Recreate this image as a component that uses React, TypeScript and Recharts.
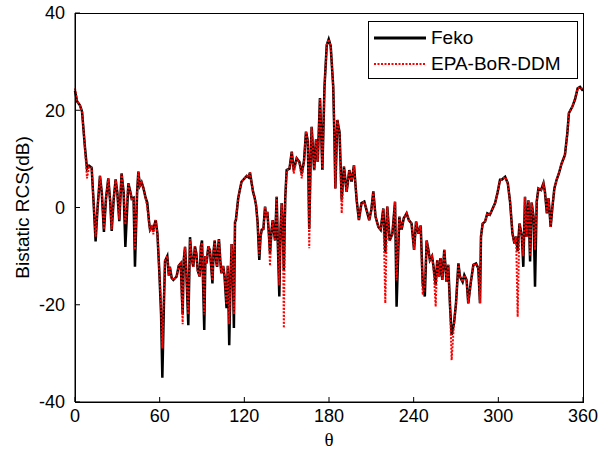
import React from 'react';
import { LineChart, Line, XAxis, YAxis } from 'recharts';

// bistatic angle (deg)
const theta = [
  0, 1.5, 3.5, 5, 7, 8.5, 10, 11.8, 13, 14.6, 16, 17.7, 19, 20.5, 22, 23.6, 25, 26, 27.5, 28.8,
  30, 31.4, 33, 34.5, 35.7, 37.8, 39, 40.2, 41.5, 42.5, 44, 44.9, 46, 47.2, 48.5, 50, 51.2, 52.5, 53.2, 54.5,
  55.5, 57.2, 58.4, 59.8, 61, 61.9, 63, 63.8, 65.4, 66.5, 67.2, 68.5, 69.7, 71, 72, 73.5, 74.9, 76.3, 77, 78,
  79, 80.3, 81.5, 82.5, 83.8, 85, 86, 87, 88.4, 89.2, 90, 91.6, 92.4, 93.2, 94.5, 95.6, 96.5, 97.4, 98.2, 99,
  100, 100.7, 101.5, 102, 103, 103.7, 105, 106, 107.4, 108.3, 109.3, 110.2, 111, 111.8, 112.6, 113.4, 114, 115.7, 118, 121.7,
  123, 124, 125.2, 126.2, 127.3, 128.3, 129.4, 130.6, 131.5, 132.3, 133.5, 134.7, 135.5, 136.3, 137.3, 138.2, 139.2, 140.1, 141, 141.8,
  142.9, 143.8, 144.8, 145.6, 146.5, 147.3, 148, 149, 150, 152, 153.6, 155, 157.1, 159, 160.7, 162.3, 163.7, 165, 166, 167,
  167.7, 169.5, 170.8, 172, 173.6, 174.5, 175.3, 176.8, 178.4, 179.8, 181.2, 183, 183.8, 184.5, 185.9, 187.5, 189, 190.6, 192.5, 194.4,
  196, 197.7, 199.6, 201.2, 203, 205, 206.6, 208.5, 210, 211.4, 213, 215, 216.6, 218.5, 219.9, 221.3, 223, 224.9, 226.8, 227.9,
  229.8, 231.4, 233, 235, 236.6, 238.5, 240.3, 241.7, 243.4, 245, 246.4, 247.9, 249.2, 250.4, 251.5, 253, 254, 255.6, 256.7, 258,
  259, 260.3, 261.7, 263.3, 264.5, 265.8, 266.9, 268.6, 270, 271.7, 272.8, 274.7, 275.9, 277.5, 278.7, 280.4, 282.3, 284.2, 285.8, 287,
  287.7, 288.9, 290.6, 292.2, 294, 296, 297.7, 299.4, 301.2, 302.4, 304.8, 306.7, 308.3, 310, 311.4, 312.6, 313.7, 315, 316.7, 317.7,
  318.9, 320, 321.3, 322.5, 323.6, 325, 326, 327.2, 328.4, 330.3, 332, 333, 334.4, 335.6, 337.1, 338.3, 339.7, 341.3, 342.9, 344.8,
  347.2, 348.9, 350, 352.4, 354.3, 356.2, 357.9, 360,
];

// Feko reference (dB)
const feko = [
  24.0, 21.8, 21.0, 19.7, 12.5, 8.0, 8.6, 8.2, 2.0, -7.0, 0, 6.5, 3, -5.0, 2, 6.0, 1, -4.8, 2, 5.8,
  3, -2.8, 7.0, 3, -8.1, 5.0, 3.5, 1.8, 2, -12.2, 3, 7.4, 4.5, 5.2, 4, 2, 1.0, -3, -4.6, -4.0,
  -4.5, -2.6, -5.3, -13.5, -22, -35, -20, -11.0, -10, -14, -12.2, -14.5, -14.9, -14.5, -14.2, -12, -11.5, -22, -11, -8.1,
  -14, -24.2, -6.1, -10, -12.2, -8, -9.5, -13, -14.2, -8, -6.8, -25.2, -10, -11.5, -8, -8.8, -12, -15.6, -9, -6.8,
  -11, -12.2, -8, -6.5, -11, -13.5, -12, -14.2, -20.7, -12, -28.3, -15, -7.5, -12, -24.8, -3, -2.6, 2.0, 5.3, 6.5,
  6.2, 7.2, 5, 3.2, 2, 0.5, -3, -10.8, -6, -4.6, -4.4, 0.2, -2, -0.9, -5, -9.4, -5, -2.6, -5, -6.8,
  2.2, -8, -18.3, -5, 0.9, -5, -12.9, 2, 7.7, 8.0, 11.5, 7.7, 10.1, 9.4, 7.0, 9.6, 15.6, 13.7, -4.4, 10,
  16.6, 7.7, 14.0, 9.4, 22.5, 15, 7.7, 24.8, 33.4, 34.6, 33.2, 24.8, 15, 3.9, 18.0, 15.4, 1.6, 8.4, 3.2, 7.7,
  5.3, 8.7, 1.5, -2.6, 0.9, 1.2, -0.5, -2.6, -0.5, 3.3, -1.9, -4.0, -4.6, -0.2, -9.4, 0.2, -6.8, -5.4, 1.2, -20.4,
  -1.9, -4.6, -2.2, -1.2, -2.6, -3.3, -8.7, -2.9, -5.4, -3.7, -15.6, -18.3, -6.8, -8.7, -10.8, -10, -12, -16, -10.8, -14.2,
  -10.4, -14.9, -8.7, -15.3, -11.8, -20.4, -26.2, -23.8, -19.7, -11.5, -14.2, -15.3, -13.9, -14.9, -19.7, -15.6, -11.8, -11.5, -12.5, -19.7,
  -6.0, -3.3, -2.9, -1.2, -1.5, -0.2, 0.9, 3.0, 5.7, 5.7, 6.3, 5.0, 1.2, -5.3, -7.4, -6, -9, -3.3, -6, -12.2,
  2.2, -6, 1.5, -11.1, 1, -2, -16.3, 1.2, 3.9, 3.6, 5.0, 3.3, -1.2, 1.9, -4.0, 0, 3.9, 5.7, 7.0, 9.0,
  10.8, 15.3, 19.4, 20.7, 22.2, 24.5, 24.8, 24.0,
];

// EPA-BoR-DDM (dB)
const epa = [
  24.5, 21.8, 21.0, 19.7, 12.5, 6.0, 8.4, 8.2, 2.0, -6.0, 0, 6.5, 3, -4.5, 2, 6.0, 1, -4.5, 2, 5.8,
  3, -2.5, 7.0, 3, -3.5, 5.0, 3.5, 1.8, 2, -8.7, 3, 7.4, 4.5, 5.2, 4, 2, 0.0, -3, -4.6, -4.0,
  -5.5, -2.6, -5.3, -13.5, -20, -29, -18, -11.0, -10, -14, -12.2, -14.5, -14.9, -14.5, -14.2, -12, -11.5, -24, -11, -8.1,
  -14, -22, -6.5, -10, -12.2, -8, -9.5, -13, -14.2, -8, -7.2, -22, -10, -11.5, -8, -8.8, -12, -15, -9, -6.8,
  -11, -12.2, -8, -6.5, -11, -13.5, -12, -14.2, -20, -12, -24, -15, -7.5, -12, -22, -3, -2.6, 2.0, 5.3, 6.5,
  6.2, 7.2, 5, 3.2, 2, 0.5, -3, -10, -6, -4.6, -4.4, 0.2, -2, -0.9, -5, -12, -5, -2.6, -5, -6.8,
  2.2, -8, -16, -5, 0.9, -5, -24.8, 2, 7.7, 8.0, 11.5, 7.0, 10.1, 9.4, 6.0, 9.6, 15.6, 13.7, -8.4, 10,
  16.6, 7.7, 14.0, 9.4, 22.5, 15, 7.7, 24.8, 33.4, 34.6, 33.2, 24.8, 15, 3.9, 18.0, 15.4, -1.2, 8.4, 3.2, 7.7,
  5.3, 8.7, 1.5, -2.6, 0.9, 1.2, -0.5, -2.6, -0.5, 3.3, -1.9, -4.0, -4.6, -0.2, -19.7, 0.2, -6.8, -5.4, 1.2, -15,
  -1.9, -4.6, -2.2, -1.2, -2.6, -3.3, -8.7, -2.9, -5.4, -3.7, -18, -16, -6.8, -8.7, -10.8, -10, -12, -20.4, -10.8, -14.2,
  -10.4, -14.9, -8.7, -15.3, -11.8, -20.4, -31.4, -23.8, -19.7, -11.5, -14.2, -15.3, -13.9, -14.9, -19.7, -15.6, -11.8, -11.5, -12.5, -19.7,
  -6.0, -3.3, -2.9, -1.2, -1.5, -0.2, 0.9, 3.0, 5.7, 5.7, 6.3, 5.0, 1.2, -5.3, -7.4, -6, -22.5, -3.3, -6, -10,
  2.2, -6, 1.5, -10, 1, -2, -8.7, 1.2, 3.9, 3.6, 5.0, 3.3, -1.2, 1.9, -4.0, 0, 3.9, 5.7, 7.0, 9.0,
  10.8, 15.3, 19.4, 20.7, 22.2, 24.5, 24.8, 24.3,
];

const xTicks = [0, 60, 120, 180, 240, 300, 360];
const yTicks = [-40, -20, 0, 20, 40];

const data = theta.map((t, i) => ({ theta: t, feko: feko[i], epa: epa[i] }));

const font = '"Liberation Sans", Arial, sans-serif';
const tickStyle = { fill: '#000', fontSize: 18, fontFamily: font };

function LegendBox() {
  return (
    <div style={{ position: 'absolute', left: 368, top: 21, boxSizing: 'border-box', border: '1px solid #000', background: '#fff', width: 210, height: 58, fontFamily: font, fontSize: 19, color: '#000', lineHeight: '20px' }}>
      <div style={{ display: 'flex', alignItems: 'center', height: 30, paddingTop: 2, boxSizing: 'border-box' }}>
        <svg width={62} height={10}><line x1={5} y1={5} x2={57} y2={5} stroke="#000" strokeWidth={3} /></svg>
        <span>Feko</span>
      </div>
      <div style={{ display: 'flex', alignItems: 'center', height: 24 }}>
        <svg width={62} height={10}><line x1={5} y1={5} x2={57} y2={5} stroke="#ff0000" strokeWidth={2} strokeDasharray="2 1.5" /></svg>
        <span>EPA-BoR-DDM</span>
      </div>
    </div>
  );
}

export default function App() {
  return (
    <div style={{ position: 'absolute', left: 0, top: 0, width: 613, height: 452, background: '#fff' }}>
      <LineChart width={613} height={452} data={data} margin={{ top: 13, right: 30, bottom: 0, left: 0 }}>
        <XAxis
          dataKey="theta"
          type="number"
          domain={[0, 360]}
          ticks={xTicks}
          interval={0}
          tickSize={-5}
          tickMargin={12}
          height={50}
          stroke="#000"
          tick={tickStyle}
          label={{ value: 'θ', position: 'insideBottom', offset: 6, style: { fill: '#000', fontSize: 19, fontFamily: '"Liberation Serif", "Times New Roman", serif' } }}
        />
        <YAxis
          type="number"
          domain={[-40, 40]}
          ticks={yTicks}
          interval={0}
          width={75}
          tickSize={-5}
          tickMargin={15}
          stroke="#000"
          tick={tickStyle}
          label={{ value: 'Bistatic RCS(dB)', angle: -90, position: 'insideLeft', offset: 22, style: { textAnchor: 'middle', fill: '#000', fontSize: 19, fontFamily: font } }}
        />
        <Line dataKey="feko" name="Feko" stroke="#000" strokeWidth={2.5} dot={false} isAnimationActive={false} />
        <Line dataKey="epa" name="EPA-BoR-DDM" stroke="#ff0000" strokeWidth={2} strokeDasharray="2 1.5" dot={false} isAnimationActive={false} />
      </LineChart>
      {/* axes box around the plot area */}
      <div style={{ position: 'absolute', left: 75, top: 13, width: 509, height: 390, boxSizing: 'border-box', border: '1px solid #000', pointerEvents: 'none' }} />
      <LegendBox />
    </div>
  );
}
